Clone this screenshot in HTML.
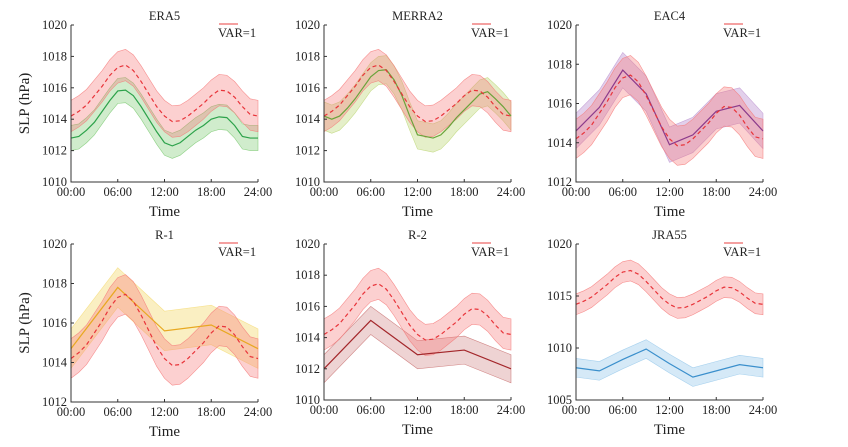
<!DOCTYPE html>
<html><head><meta charset="utf-8"><style>
html,body{margin:0;padding:0;background:#fff}
svg{display:block;font-family:"Liberation Serif",serif}
</style></head><body>
<svg id="fig" width="848" height="447" viewBox="0 0 848 447"></svg>
<script>
const hours = [0,1,2,3,4,5,6,7,8,9,10,11,12,13,14,15,16,17,18,19,20,21,22,23,24];
const refMean = [1014.2,1014.5,1014.9,1015.5,1016.1,1016.8,1017.3,1017.45,1017.1,1016.4,1015.6,1014.8,1014.2,1013.85,1013.9,1014.2,1014.6,1015.0,1015.5,1015.85,1015.8,1015.4,1014.8,1014.3,1014.2];
const refSpread = 1.0;
const era5Mean = [1012.8,1012.9,1013.3,1013.8,1014.5,1015.2,1015.8,1015.85,1015.5,1014.8,1014.0,1013.2,1012.5,1012.3,1012.5,1012.9,1013.3,1013.6,1014.0,1014.15,1014.1,1013.6,1012.9,1012.8,1012.8];
const merraMean = [1014.2,1014.0,1014.2,1014.7,1015.3,1016.0,1016.7,1017.1,1017.15,1016.5,1015.5,1014.2,1013.0,1012.9,1012.8,1013.0,1013.5,1014.1,1014.6,1015.1,1015.6,1015.75,1015.3,1014.8,1014.2];
const hours3 = [0,3,6,9,12,15,18,21,24];
const eac4Mean = [1014.6,1015.8,1017.7,1016.5,1013.9,1014.4,1015.6,1015.9,1014.6];
const jraMean = [1008.1,1007.8,1008.9,1009.9,1008.5,1007.2,1007.8,1008.4,1008.1];
const hours6 = [0,6,12,18,24];
const r1Mean = [1014.7,1017.8,1015.6,1015.9,1014.7];
const r2Mean = [1012.0,1015.1,1012.9,1013.2,1012.0];
const xTickLabels = ["00:00","06:00","12:00","18:00","24:00"];

const panels = [
 {name:"era5",title:"ERA5",x0:71,x1:258,y0:25,y1:182,ymin:1010,ymax:1020,step:2,xs:hours,ys:era5Mean,sp:0.8,col:"#2ca24a",fill:"rgba(120,200,110,0.35)",yl:true},
 {name:"merra2",title:"MERRA2",x0:324,x1:511,y0:25,y1:182,ymin:1010,ymax:1020,step:2,xs:hours,ys:merraMean,sp:0.9,col:"#6aa33a",fill:"rgba(190,215,120,0.4)"},
 {name:"eac4",title:"EAC4",x0:576,x1:763,y0:25,y1:182,ymin:1012,ymax:1020,step:2,xs:hours3,ys:eac4Mean,sp:0.9,col:"#8b3a8b",fill:"rgba(190,150,210,0.45)"},
 {name:"r1",title:"R-1",x0:71,x1:258,y0:244,y1:402,ymin:1012,ymax:1020,step:2,xs:hours6,ys:r1Mean,sp:1.0,col:"#e8a820",fill:"rgba(245,220,120,0.45)",yl:true},
 {name:"r2",title:"R-2",x0:324,x1:511,y0:244,y1:400,ymin:1010,ymax:1020,step:2,xs:hours6,ys:r2Mean,sp:0.9,col:"#a3262a",fill:"rgba(200,110,110,0.3)"},
 {name:"jra55",title:"JRA55",x0:576,x1:763,y0:244,y1:400,ymin:1005,ymax:1020,step:5,xs:hours3,ys:jraMean,sp:0.9,col:"#3a8fcc",fill:"rgba(150,200,235,0.4)"}
];
const svg=document.getElementById('fig');
const NS="http://www.w3.org/2000/svg";
function mk(tag,attrs,parent){const e=document.createElementNS(NS,tag);for(const k in attrs)e.setAttribute(k,attrs[k]);(parent||svg).appendChild(e);return e;}
panels.forEach(p=>{
 const g=mk('g',{});
 
 
 const X=h=>p.x0+(p.x1-p.x0)*h/24;
 const Y=v=>p.y1-(p.y1-p.y0)*(v-p.ymin)/(p.ymax-p.ymin);
 function band(xs,ys,sp,fill,nm){
  let d='M'+xs.map((h,i)=>X(h)+','+Y(ys[i]+sp)).join('L');
  for(let i=xs.length-1;i>=0;i--)d+='L'+X(xs[i])+','+Y(ys[i]-sp);
  const e=mk('path',{d:d+'Z',fill:fill,stroke:fill.replace(/[\d.]+\)$/,'0.8)'),'stroke-width':0.6},g);
  
  
 }
 function line(xs,ys,col,dash,nm){
  const e=mk('polyline',{points:xs.map((h,i)=>X(h)+','+Y(ys[i])).join(' '),fill:'none',stroke:col,'stroke-width':1.2},g);
  if(dash)e.setAttribute('stroke-dasharray',dash);
  
  
 }
 band(p.xs,p.ys,p.sp,p.fill,p.name+'-band');
 band(hours,refMean,refSpread,'rgba(245,120,120,0.35)','var1-band');
 line(p.xs,p.ys,p.col,null,p.name+'-line');
 line(hours,refMean,'#e8343a','4,3','var1-line');
 // axes
 const ax=mk('path',{d:`M${p.x0},${p.y0}V${p.y1}H${p.x1}`,fill:'none',stroke:'#333','stroke-width':1},g);
 
 
 for(let v=p.ymin;v<=p.ymax;v+=p.step){
  mk('line',{x1:p.x0,x2:p.x0+3,y1:Y(v),y2:Y(v),stroke:'#333'},g);
  const t=mk('text',{x:p.x0-4,y:Y(v)+4,'text-anchor':'end','font-size':12.5,fill:'#222'},g);
  t.textContent=v;
  
  
 }
 xTickLabels.forEach((lab,i)=>{
  const x=X(i*6);
  mk('line',{x1:x,x2:x,y1:p.y1,y2:p.y1-3,stroke:'#333'},g);
  const t=mk('text',{x:x,y:p.y1+14,'text-anchor':'middle','font-size':12.5,fill:'#222'},g);
  t.textContent=lab;
  
  
 });
 const xt=mk('text',{x:(p.x0+p.x1)/2,y:p.y1+34,'text-anchor':'middle','font-size':15,fill:'#222'},g);
 xt.textContent='Time';
 
 
 const tt=mk('text',{x:(p.x0+p.x1)/2,y:p.y0-5,'text-anchor':'middle','font-size':12.5,fill:'#222'},g);
 tt.textContent=p.title;
 
 
 const lg=mk('line',{x1:p.x1-39,x2:p.x1-20,y1:p.y0-1,y2:p.y0-1,stroke:'#f08080','stroke-width':1.5},g);
 
 
 const lt=mk('text',{x:p.x1-40,y:p.y0+12,'font-size':12.5,fill:'#222'},g);
 lt.textContent='VAR=1';
 
 
 if(p.yl){
  const cy=(p.y0+p.y1)/2;
  const yt=mk('text',{x:29,y:cy,'text-anchor':'middle','font-size':15,fill:'#222',transform:`rotate(-90 29 ${cy})`},g);
  yt.textContent='SLP (hPa)';
  
  
 }
});
</script>
</body></html>
